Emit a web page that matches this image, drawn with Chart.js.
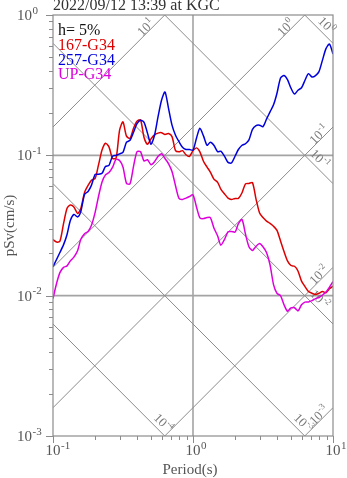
<!DOCTYPE html>
<html>
<head>
<meta charset="utf-8">
<title>pSv spectrum KGC</title>
<script src="https://cdn.jsdelivr.net/npm/chart.js@4/dist/chart.umd.min.js"></script>
<style>
  html, body { margin: 0; padding: 0; background: #fff; }
  canvas { display: block; }
</style>
</head>
<body>
<canvas id="chart" width="347" height="478"></canvas>
<script>
// pseudo velocity response spectra, tripartite log-log frame

const title = '2022/09/12 13:39 at KGC';
const damping = 'h= 5%';
const seriesNames = ['167-G34', '257-G34', 'UP-G34'];
const seriesColors = ['#dd0000', '#0000dd', '#dd00dd'];

// period (s)
const periods = [
  0.1, 0.106, 0.112, 0.119, 0.126, 0.133, 0.141, 0.15, 0.158, 0.168,
  0.178, 0.188, 0.2, 0.211, 0.224, 0.237, 0.251, 0.266, 0.282, 0.299,
  0.316, 0.335, 0.355, 0.376, 0.398, 0.422, 0.447, 0.473, 0.501, 0.531,
  0.562, 0.596, 0.631, 0.668, 0.708, 0.75, 0.794, 0.841, 0.891, 0.944,
  1.0, 1.06, 1.12, 1.19, 1.26, 1.33, 1.41, 1.5, 1.58, 1.68,
  1.78, 1.88, 2.0, 2.11, 2.24, 2.37, 2.51, 2.66, 2.82, 2.99,
  3.16, 3.35, 3.55, 3.76, 3.98, 4.22, 4.47, 4.73, 5.01, 5.31,
  5.62, 5.96, 6.31, 6.68, 7.08, 7.5, 7.94, 8.41, 8.91, 9.44,
  10.0
];

// pSv (cm/s)
const sv167 = [
  0.0251, 0.0241, 0.0244, 0.0327, 0.0420, 0.0443, 0.0429, 0.0385, 0.0418, 0.0544,
  0.0611, 0.0663, 0.0685, 0.0848, 0.109, 0.122, 0.115, 0.0952, 0.0952, 0.151,
  0.173, 0.137, 0.132, 0.156, 0.175, 0.179, 0.134, 0.120, 0.131, 0.140,
  0.144, 0.145, 0.141, 0.143, 0.136, 0.108, 0.106, 0.108, 0.101, 0.0984,
  0.108, 0.113, 0.106, 0.0903, 0.0825, 0.0760, 0.0677, 0.0642, 0.0574, 0.0531,
  0.0496, 0.0485, 0.0493, 0.0493, 0.0541, 0.0626, 0.0631, 0.0639, 0.0488, 0.0388,
  0.0360, 0.0340, 0.0327, 0.0312, 0.0292, 0.0245, 0.0206, 0.0177, 0.0164, 0.0162,
  0.0150, 0.0127, 0.0116, 0.0107, 0.0104, 0.0102, 0.0104, 0.0107, 0.0105, 0.0112,
  0.0117
];

const sv257 = [
  0.0161, 0.0181, 0.0203, 0.0231, 0.0273, 0.0343, 0.0379, 0.0364, 0.0398, 0.0527,
  0.0553, 0.0611, 0.0732, 0.0732, 0.0744, 0.0834, 0.0848, 0.0984, 0.100, 0.1025,
  0.105, 0.124, 0.128, 0.146, 0.168, 0.178, 0.172, 0.144, 0.120, 0.139,
  0.187, 0.247, 0.283, 0.217, 0.164, 0.139, 0.125, 0.114, 0.110, 0.110,
  0.109, 0.133, 0.156, 0.137, 0.118, 0.124, 0.118, 0.106, 0.107, 0.0984,
  0.0891, 0.0881, 0.0989, 0.110, 0.118, 0.121, 0.129, 0.153, 0.163, 0.164,
  0.160, 0.181, 0.204, 0.229, 0.277, 0.356, 0.370, 0.346, 0.301, 0.273,
  0.291, 0.303, 0.343, 0.382, 0.362, 0.370, 0.395, 0.477, 0.576, 0.621,
  0.527
];

const svUP = [
  0.00952, 0.0122, 0.0146, 0.0159, 0.0163, 0.0177, 0.0188, 0.0210, 0.0252, 0.0276,
  0.0287, 0.0316, 0.0392, 0.0505, 0.0646, 0.0726, 0.0754, 0.0820, 0.0937, 0.0918,
  0.0825, 0.0631, 0.0627, 0.0834, 0.106, 0.106, 0.0910, 0.0930, 0.0858, 0.0900,
  0.0980, 0.1025, 0.0949, 0.0874, 0.0767, 0.0607, 0.0493, 0.0485, 0.0496, 0.0509,
  0.0523, 0.0427, 0.0359, 0.0354, 0.0360, 0.0360, 0.0304, 0.0266, 0.0229, 0.0252,
  0.0285, 0.0287, 0.0284, 0.0326, 0.0349, 0.0275, 0.0223, 0.0210, 0.0225, 0.0235,
  0.0223, 0.0203, 0.0166, 0.0120, 0.0104, 0.0100, 0.00862, 0.00775, 0.00818, 0.00821,
  0.00779, 0.00861, 0.00899, 0.00902, 0.00921, 0.00952, 0.00971, 0.0101, 0.0106, 0.0115,
  0.0126
];

// guide lines: constant pSd (cm) falling, constant pSa (cm/s^2) rising
const sdLevels = [1e-4, 1e-3, 1e-2, 1e-1, 1];
const saLevels = [1e-3, 1e-2, 1e-1, 1, 10];

const xTicks = [0.1, 1, 10];
const yTicks = [0.001, 0.01, 0.1, 1];

const TWO_PI = 2 * Math.PI;
const T_MIN = xTicks[0], T_MAX = xTicks[xTicks.length - 1];
const serif = '"Liberation Serif", "Times New Roman", serif';
const frameGray = '#8c8c8c';

function guideLine(f) {
  return {
    data: [{ x: T_MIN, y: f(T_MIN) }, { x: T_MAX, y: f(T_MAX) }],
    borderColor: frameGray, borderWidth: 1, pointRadius: 0,
    tension: 0, clip: 0, order: 10
  };
}

const guides = [
  ...sdLevels.map(d => guideLine(t => TWO_PI * d / t)),
  ...saLevels.map(a => guideLine(t => a * t / TWO_PI))
];

const series = [sv167, sv257, svUP].map((vals, i) => ({
  label: seriesNames[i],
  data: periods.map((t, j) => ({ x: t, y: vals[j] })),
  borderColor: seriesColors[i], borderWidth: 1.5, pointRadius: 0,
  tension: 0.25, clip: 0, order: 3 - i
}));

// "10" with a raised exponent. mode: 'left', 'base' (10 centred on x), 'center'
function drawPower(ctx, exp, x, y, size, mode) {
  const big = size + 'px ' + serif;
  const small = Math.round(size * 0.72) + 'px ' + serif;
  const sup = String(exp);
  ctx.font = big;
  const wb = ctx.measureText('10').width;
  ctx.font = small;
  const ws = ctx.measureText(sup).width;
  let x0 = x;
  if (mode === 'base') x0 = x - wb / 2;
  else if (mode === 'center') x0 = x - (wb + ws) / 2;
  ctx.textAlign = 'left';
  ctx.font = big;
  ctx.fillText('10', x0, y);
  ctx.font = small;
  ctx.fillText(sup, x0 + wb + 0.5, y - size * 0.42);
}

function drawGuideLabel(ctx, exp, cx, cy, angle) {
  ctx.save();
  ctx.translate(cx, cy);
  ctx.rotate(angle);
  drawPower(ctx, exp, 0, 4, 13, 'center');
  ctx.restore();
}

const decor = {
  id: 'decor',
  beforeDatasetsDraw(chart) {
    const { ctx, chartArea: a } = chart;
    const sx = chart.scales.x, sy = chart.scales.y;
    ctx.save();
    ctx.strokeStyle = '#a4a4a4';
    ctx.lineWidth = 1.6;
    ctx.beginPath();
    for (const t of xTicks.slice(1, -1)) {
      const px = sx.getPixelForValue(t);
      ctx.moveTo(px, a.top); ctx.lineTo(px, a.bottom);
    }
    for (const v of yTicks.slice(1, -1)) {
      const py = sy.getPixelForValue(v);
      ctx.moveTo(a.left, py); ctx.lineTo(a.right, py);
    }
    ctx.stroke();

    // level labels sit beside each guide, near where it leaves the frame
    ctx.fillStyle = '#7a7a7a';
    ctx.textBaseline = 'alphabetic';
    for (const d of sdLevels) {
      const t = Math.max(Math.min(7.3, TWO_PI * d / 1.13e-3), TWO_PI * d / 0.77);
      const px = sx.getPixelForValue(t), py = sy.getPixelForValue(TWO_PI * d / t);
      drawGuideLabel(ctx, Math.round(Math.log10(d)), px + 5.7, py - 5.7, Math.PI / 4);
    }
    for (const s of saLevels) {
      const t = Math.min(8.35, 0.77 * TWO_PI / s);
      const px = sx.getPixelForValue(t), py = sy.getPixelForValue(s * t / TWO_PI);
      drawGuideLabel(ctx, Math.round(Math.log10(s)), px - 3.2, py - 3.2, -Math.PI / 4);
    }
    ctx.restore();
  },
  afterDraw(chart) {
    const { ctx, chartArea: a } = chart;
    const sx = chart.scales.x, sy = chart.scales.y;
    ctx.save();

    // frame
    ctx.strokeStyle = frameGray;
    ctx.lineWidth = 1.2;
    ctx.strokeRect(a.left, a.top, a.right - a.left, a.bottom - a.top);

    // tick marks, outward on the left and bottom
    ctx.lineWidth = 1;
    ctx.beginPath();
    for (let i = 0; i < xTicks.length; i++) {
      const t0 = xTicks[i];
      const px = Math.round(sx.getPixelForValue(t0)) + 0.5;
      ctx.moveTo(px, a.bottom); ctx.lineTo(px, a.bottom + 7);
      if (i === xTicks.length - 1) break;
      for (let m = 2; m <= 9; m++) {
        const q = Math.round(sx.getPixelForValue(t0 * m)) + 0.5;
        ctx.moveTo(q, a.bottom); ctx.lineTo(q, a.bottom + 4);
      }
    }
    for (let i = 0; i < yTicks.length; i++) {
      const v0 = yTicks[i];
      const py = Math.round(sy.getPixelForValue(v0)) + 0.5;
      ctx.moveTo(a.left, py); ctx.lineTo(a.left - 7, py);
      if (i === yTicks.length - 1) break;
      for (let m = 2; m <= 9; m++) {
        const q = Math.round(sy.getPixelForValue(v0 * m)) + 0.5;
        ctx.moveTo(a.left, q); ctx.lineTo(a.left - 4, q);
      }
    }
    ctx.stroke();

    // tick labels
    ctx.fillStyle = '#555';
    ctx.textBaseline = 'alphabetic';
    for (const t of xTicks) {
      drawPower(ctx, Math.round(Math.log10(t)), sx.getPixelForValue(t), a.bottom + 19, 15, 'base');
    }
    for (const v of yTicks) {
      drawPower(ctx, Math.round(Math.log10(v)), 17, sy.getPixelForValue(v) + 5, 15, 'left');
    }

    // axis titles
    ctx.font = '15px ' + serif;
    ctx.textAlign = 'center';
    ctx.fillText('Period(s)', (a.left + a.right) / 2 - 3, 474);
    ctx.save();
    ctx.translate(14, (a.top + a.bottom) / 2);
    ctx.rotate(-Math.PI / 2);
    ctx.fillText('pSv(cm/s)', 0, 0);
    ctx.restore();

    // title
    ctx.fillStyle = '#333';
    ctx.textAlign = 'left';
    ctx.font = '16px ' + serif;
    ctx.fillText(title, a.left, 10);

    // legend block
    ctx.fillStyle = '#111';
    ctx.fillText(damping, a.left + 5, 35);
    seriesNames.forEach((name, i) => {
      ctx.fillStyle = seriesColors[i];
      ctx.fillText(name, a.left + 5, 50 + i * 14.5);
    });
    ctx.restore();
  }
};

new Chart(document.getElementById('chart'), {
  type: 'line',
  data: { datasets: [...series, ...guides] },
  options: {
    responsive: false,
    animation: false,
    devicePixelRatio: 1,
    layout: { padding: { left: 53, top: 15, right: 14, bottom: 42 } },
    scales: {
      x: { type: 'logarithmic', min: T_MIN, max: T_MAX, display: false },
      y: { type: 'logarithmic', min: yTicks[0], max: yTicks[yTicks.length - 1], display: false }
    },
    plugins: { legend: { display: false }, tooltip: { enabled: false } }
  },
  plugins: [decor]
});
</script>
</body>
</html>
